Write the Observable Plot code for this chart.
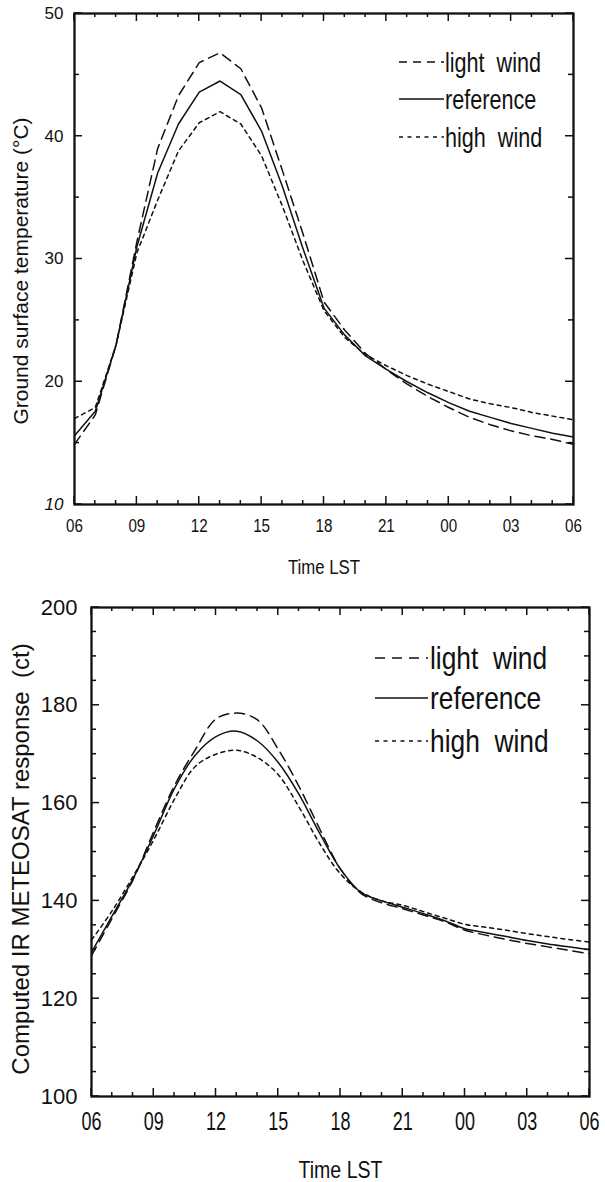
<!DOCTYPE html>
<html><head><meta charset="utf-8">
<script src="https://cdn.jsdelivr.net/npm/d3@7"></script>
<script src="https://cdn.jsdelivr.net/npm/@observablehq/plot@0.6"></script>
<style>
body{margin:0;background:#fff;}
#c{width:605px;}
#c svg{display:block;}
</style></head><body><div id="c"></div>
<script>
const hours = [6,7,8,9,10,11,12,13,14,15,16,17,18,19,20,21,22,23,24,25,26,27,28,29,30];
const seriesNames = ["light wind","reference","high wind"];
// Ground surface temperature (°C)
const tempLight = [14.9,17.3,23.0,31.4,39.0,43.3,46.0,46.8,45.5,42.3,37.2,32.0,26.5,24.2,22.3,21.0,19.8,18.8,17.9,17.1,16.5,16.0,15.6,15.3,14.9];
const tempRef   = [15.6,17.6,23.0,31.0,37.0,41.0,43.6,44.5,43.4,40.4,35.9,30.8,26.0,23.8,22.1,21.0,20.0,19.1,18.3,17.6,17.1,16.6,16.2,15.8,15.5];
const tempHigh  = [17.0,17.9,23.0,30.5,34.8,38.8,41.1,42.0,41.0,38.4,34.3,29.8,25.8,23.6,22.2,21.3,20.5,19.8,19.2,18.6,18.2,17.9,17.5,17.2,16.9];
// Computed IR METEOSAT response (ct)
const irLight = [128.8,136.5,144.3,154.2,163.6,170.9,177.2,178.4,177.0,171.0,163.4,154.7,146.5,141.5,139.6,138.4,137.1,135.8,134.0,133.0,132.1,131.3,130.6,129.9,129.2];
const irRef   = [129.5,137.0,144.5,153.5,163.0,169.8,173.6,174.7,172.7,168.3,161.8,153.8,146.5,141.7,140.0,138.7,137.4,136.0,134.3,133.5,132.7,131.9,131.2,130.6,130.0];
const irHigh  = [132.0,138.0,145.0,152.5,160.8,167.5,170.0,170.8,169.3,165.8,159.2,151.7,145.5,141.8,140.0,139.1,137.8,136.5,135.2,134.6,134.0,133.3,132.7,132.1,131.6];
const xTickHours = [6,9,12,15,18,21,24,27,30];
const xTickLabels = ["06","09","12","15","18","21","00","03","06"];
const tempTicks = [10,20,30,40,50];
const tempMinor = [15,25,35,45];
const irTicks = [100,120,140,160,180,200];
const irMinor = [105,110,115,125,130,135,145,150,155,165,170,175,185,190,195];
const tempLabel = "Ground surface temperature (°C)";
const irLabel = "Computed IR METEOSAT response  (ct)";
const xLabel = "Time LST";

const SANS = "'Liberation Sans',Arial,Helvetica,sans-serif";
const dashes = {"light wind":"10,6","reference":null,"high wind":"4,4"};

function rowsOf(arrs){
  const out=[];
  seriesNames.forEach((s,i)=>hours.forEach((h,j)=>out.push({hour:h,value:arrs[i][j],series:s})));
  return out;
}
function narrow(sel, sx){
  sel.each(function(){
    const t = this.getAttribute("transform") || "";
    this.setAttribute("transform", t + ` scale(${sx},1)`);
  });
}
function panel(cfg){
  const rows = rowsOf(cfg.values);
  const minorHours = hours.filter(h=>!xTickHours.includes(h));
  const lineMarks = seriesNames.map(s=>Plot.line(rows.filter(r=>r.series===s),{x:"hour",y:"value",stroke:"#111",strokeWidth:1.5,strokeDasharray:dashes[s],curve:cfg.curve}));
  const svg = Plot.plot({
    width:605, height:cfg.height,
    marginLeft:cfg.ml, marginRight:cfg.mr, marginTop:cfg.mt, marginBottom:cfg.mb,
    style:{background:"#fff", color:"#111"},
    x:{domain:[6,30], label:null, axis:null},
    y:{domain:cfg.yDomain, label:null, axis:null},
    marks:[
      ...lineMarks,
      Plot.axisX({anchor:"bottom", ticks:xTickHours, tickSize:0, tickPadding:cfg.xPad, tickFormat:d=>xTickLabels[xTickHours.indexOf(d)], label:null, fontSize:cfg.xFs, fontFamily:SANS, fill:"#111", className:"xlab"}),
      Plot.axisY({anchor:"left", ticks:cfg.yTicks, tickSize:0, tickPadding:cfg.yPad, label:null, fontSize:cfg.yFs, fontFamily:SANS, fill:"#111", className:"ylab"}),
      Plot.frame({stroke:"#111", strokeWidth:2.3}),
      Plot.text([cfg.yLabel],{frameAnchor:"left", rotate:-90, dx:cfg.ylDx, dy:cfg.ylDy, fontSize:cfg.ylFs, fontFamily:SANS, fill:"#111", textAnchor:"middle"}),
      Plot.text([xLabel],{frameAnchor:"bottom", dy:cfg.xlDy, fontSize:cfg.xlFs, fontFamily:SANS, fill:"#111", lineAnchor:"middle", className:"xtitle"})
    ]
  });
  const s = d3.select(svg);
  narrow(s.selectAll(".xlab text"), cfg.xSx);
  narrow(s.selectAll(".xtitle text"), cfg.xlSx);
  if (cfg.italicTick != null) {
    s.selectAll(".ylab text").filter(function(){ return this.textContent === String(cfg.italicTick); }).attr("font-style","italic");
  }
  // inward ticks on all four sides, positioned with Plot's own scales
  const xs = svg.scale("x"), ys = svg.scale("y");
  const X = v => xs.apply(v), Y = v => ys.apply(v);
  const x0 = X(6), x1 = X(30), y0 = Y(cfg.yDomain[0]), y1 = Y(cfg.yDomain[1]);
  const tg = s.append("g").attr("stroke","#111").attr("stroke-width",1.5);
  const seg = (a,b,c,d) => tg.append("line").attr("x1",a).attr("y1",b).attr("x2",c).attr("y2",d);
  xTickHours.forEach(h=>{ seg(X(h),y0,X(h),y0-8); seg(X(h),y1,X(h),y1+8); });
  minorHours.forEach(h=>{ seg(X(h),y0,X(h),y0-4); seg(X(h),y1,X(h),y1+4); });
  cfg.yTicks.forEach(v=>{ seg(x0,Y(v),x0+8,Y(v)); seg(x1,Y(v),x1-8,Y(v)); });
  cfg.yMinor.forEach(v=>{ seg(x0,Y(v),x0+5,Y(v)); seg(x1,Y(v),x1-5,Y(v)); });
  // legend
  const g = s.append("g").attr("text-anchor","start");
  seriesNames.forEach((name,i)=>{
    const y = cfg.leg.y[i];
    g.append("line").attr("x1",cfg.leg.x1).attr("x2",cfg.leg.x2).attr("y1",y).attr("y2",y)
      .attr("stroke","#111").attr("stroke-width",1.4).attr("stroke-dasharray",cfg.leg.dash[name]);
    g.append("text").attr("transform",`translate(${cfg.leg.tx},${y}) scale(${cfg.leg.sx},1)`).attr("dy","0.36em")
      .attr("font-family",SANS).attr("font-size",cfg.leg.fs).attr("fill","#111")
      .attr("xml:space","preserve").style("white-space","pre")
      .text(name==="light wind"?"light  wind":(name==="high wind"?"high  wind":name));
  });
  return svg;
}
const c = document.getElementById("c");
c.appendChild(panel({
  values:[tempLight,tempRef,tempHigh], height:590, ml:74, mr:32, mt:13, mb:86,
  yDomain:[10,50], yTicks:tempTicks, yMinor:tempMinor, curve:"linear", italicTick:10,
  xPad:14, xFs:19, xSx:0.8, yPad:11, yFs:17,
  yLabel:tempLabel, ylDx:-53, ylDy:12, ylFs:21,
  xlDy:63, xlFs:21, xlSx:0.8,
  leg:{x1:399,x2:444,tx:445,y:[62,99,137],fs:27,sx:0.8,dash:{"light wind":"8,6","reference":null,"high wind":"4,4.5"}}
}));
c.appendChild(panel({
  values:[irLight,irRef,irHigh], height:592, ml:91, mr:16, mt:17, mb:86,
  yDomain:[100,200], yTicks:irTicks, yMinor:irMinor, curve:"catmull-rom", italicTick:null,
  xPad:16, xFs:25, xSx:0.72, yPad:14, yFs:22,
  yLabel:irLabel, ylDx:-70, ylDy:7, ylFs:24,
  xlDy:74, xlFs:23, xlSx:0.85,
  leg:{x1:375,x2:428,tx:430,y:[68,108,151],fs:31,sx:0.85,dash:{"light wind":"10,7","reference":null,"high wind":"4,4.5"}}
}));
</script></body></html>
